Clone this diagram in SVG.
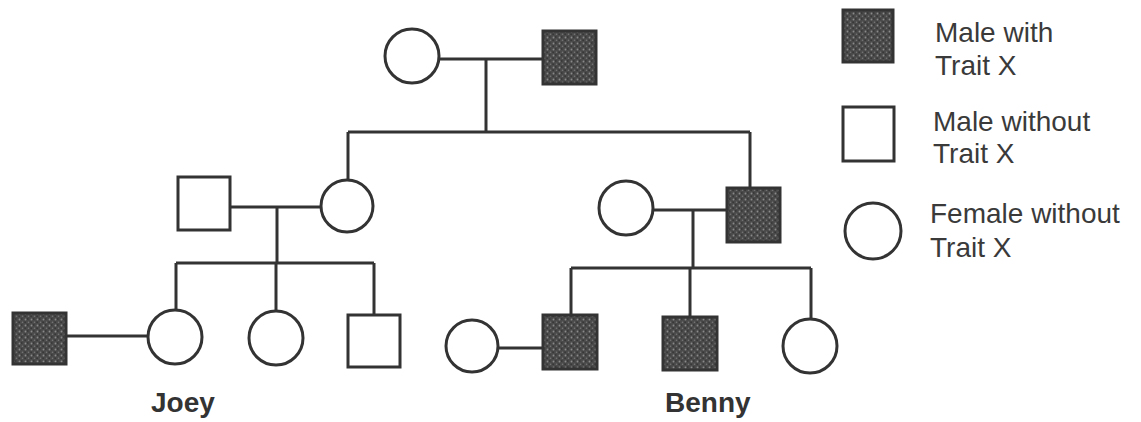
<svg xmlns="http://www.w3.org/2000/svg" width="1141" height="422" viewBox="0 0 1141 422">
  <defs>
    <pattern id="stip" width="6" height="6" patternUnits="userSpaceOnUse">
      <rect width="6" height="6" fill="#4a4a4a"/>
      <circle cx="1.5" cy="1.5" r="0.9" fill="#8a8a8a"/>
      <circle cx="4.5" cy="4.2" r="0.8" fill="#777"/>
      <rect x="3" y="0.5" width="1.5" height="1" fill="#2a2a2a"/>
      <rect x="0.5" y="3.5" width="1.2" height="1.5" fill="#2f2f2f"/>
    </pattern>
  </defs>
  <style>
    .ln { stroke: #333; stroke-width: 3; fill: none; }
    .f { fill: #fff; stroke: #333; stroke-width: 3; }
    .m { fill: #fff; stroke: #333; stroke-width: 3; }
    .a { fill: url(#stip); stroke: #333; stroke-width: 3; }
    .lbl { font-family: "Liberation Sans", Arial, sans-serif; font-weight: bold; font-size: 28px; fill: #333; }
    .lg { font-family: "Liberation Sans", Arial, sans-serif; font-size: 28px; fill: #3a3a3a; }
  </style>
  <rect width="1141" height="422" fill="#fff"/>

  <g id="connectors">
    <line class="ln" x1="439" y1="59" x2="543" y2="59"/>
    <line class="ln" x1="486" y1="59" x2="486" y2="132"/>
    <line class="ln" x1="348" y1="132" x2="750" y2="132"/>
    <line class="ln" x1="348" y1="132" x2="348" y2="180"/>
    <line class="ln" x1="750" y1="132" x2="750" y2="188"/>

    <line class="ln" x1="230" y1="207" x2="321" y2="207"/>
    <line class="ln" x1="277" y1="207" x2="277" y2="263"/>
    <line class="ln" x1="176" y1="263" x2="374" y2="263"/>
    <line class="ln" x1="176" y1="263" x2="176" y2="310"/>
    <line class="ln" x1="276" y1="263" x2="276" y2="311"/>
    <line class="ln" x1="374" y1="263" x2="374" y2="315"/>

    <line class="ln" x1="653" y1="210" x2="727" y2="210"/>
    <line class="ln" x1="693" y1="210" x2="693" y2="268"/>
    <line class="ln" x1="571" y1="268" x2="811" y2="268"/>
    <line class="ln" x1="571" y1="268" x2="571" y2="315"/>
    <line class="ln" x1="690" y1="268" x2="690" y2="317"/>
    <line class="ln" x1="811" y1="268" x2="811" y2="319"/>

    <line class="ln" x1="66" y1="336" x2="148" y2="336"/>
    <line class="ln" x1="498" y1="348" x2="543" y2="348"/>
  </g>

  <g id="gen1-mother"><circle class="f" cx="412" cy="56" r="27"/></g>
  <g id="gen1-father"><rect class="a" x="543" y="31" width="53" height="53"/></g>

  <g id="gen2-husband"><rect class="m" x="178" y="177" width="52" height="53"/></g>
  <g id="gen2-daughter"><circle class="f" cx="347" cy="206" r="26"/></g>
  <g id="gen2-wife"><circle class="f" cx="626" cy="208" r="27"/></g>
  <g id="gen2-son"><rect class="a" x="727" y="188" width="53" height="54"/></g>

  <g id="gen3-joey-husband"><rect class="a" x="13" y="313" width="53" height="51"/></g>
  <g id="gen3-joey"><circle class="f" cx="175" cy="337" r="27"/></g>
  <g id="gen3-sister"><circle class="f" cx="276" cy="338" r="27"/></g>
  <g id="gen3-brother"><rect class="m" x="348" y="315" width="52" height="52"/></g>
  <g id="gen3-wife"><circle class="f" cx="472" cy="346" r="26"/></g>
  <g id="gen3-cousin"><rect class="a" x="543" y="315" width="54" height="54"/></g>
  <g id="gen3-benny"><rect class="a" x="663" y="317" width="54" height="53"/></g>
  <g id="gen3-cousin-f"><circle class="f" cx="810" cy="346" r="27"/></g>

  <g id="labels">
    <text class="lbl" x="151" y="412">Joey</text>
    <text class="lbl" x="665" y="412">Benny</text>
  </g>

  <g id="legend">
    <g id="legend-affected">
      <rect class="a" x="843" y="10" width="50" height="52"/>
      <text class="lg" x="935" y="42">Male with</text>
      <text class="lg" x="935" y="75">Trait X</text>
    </g>
    <g id="legend-male">
      <rect class="m" x="843" y="107" width="51" height="54"/>
      <text class="lg" x="933" y="131">Male without</text>
      <text class="lg" x="933" y="163">Trait X</text>
    </g>
    <g id="legend-female">
      <circle class="f" cx="873" cy="231" r="28"/>
      <text class="lg" x="930" y="223">Female without</text>
      <text class="lg" x="930" y="257">Trait X</text>
    </g>
  </g>
</svg>
